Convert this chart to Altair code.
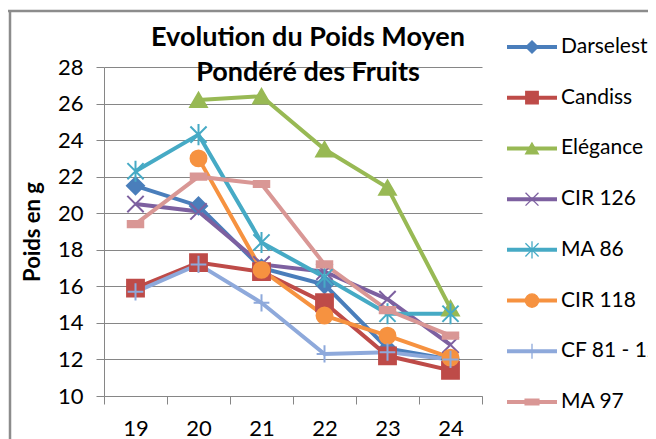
import altair as alt
import pandas as pd

FONT = "Lato"
GRAY = "#868686"

weeks = ["19", "20", "21", "22", "23", "24"]
series_names = ["Darselest", "Candiss", "Elégance", "CIR 126", "MA 86",
                "CIR 118", "CF 81 - 12", "MA 97"]
title_lines = ["Evolution du Poids Moyen", "Pondéré des Fruits"]

darselest = [21.5, 20.4, 17.0, 16.1, 12.6, 12.0]
candiss = [15.9, 17.3, 16.8, 15.1, 12.2, 11.4]
elegance = [None, 26.2, 26.4, 23.5, 21.4, 14.8]
cir126 = [20.5, 20.1, 17.2, 16.8, 15.3, 12.8]
ma86 = [22.3, 24.3, 18.4, 16.5, 14.5, 14.5]
cir118 = [None, 23.0, 16.9, 14.4, 13.3, 12.1]
cf81 = [15.7, 17.2, 15.1, 12.3, 12.4, 12.0]
ma97 = [19.4, 22.0, 21.6, 17.2, 14.7, 13.3]
values = [darselest, candiss, elegance, cir126, ma86, cir118, cf81, ma97]

colors = ["#4A7EBB", "#BE4B48", "#98B954", "#7D60A0", "#46AAC5",
          "#F69240", "#8EA9DB", "#D99795"]
shapes = ["diamond", "square", "triangle-up",
          "M-1,-1L1,1M-1,1L1,-1",
          "M-1,-1L1,1M-1,1L1,-1M0,-1.3L0,1.3",
          "circle",
          "M-1,0L1,0M0,-1.1L0,1.1",
          "M-1,-0.4L1,-0.4L1,0.4L-1,0.4Z"]
sizes = [290, 240, 320, 280, 300, 250, 250, 150]
leg_sizes = [150, 190, 200, 260, 260, 150, 220, 10]

rows = []
for name, vals in zip(series_names, values):
    for w, v in zip(weeks, vals):
        if v is not None:
            rows.append({"series": name, "week": w, "value": v})
df = pd.DataFrame(rows)
leg = pd.DataFrame({"series": series_names})
ttl = pd.DataFrame({"k": [0]})

color = alt.Color("series:N", scale=alt.Scale(domain=series_names, range=colors), legend=None)
stroke = alt.Stroke("series:N", scale=alt.Scale(domain=series_names, range=colors), legend=None)
shape = alt.Shape("series:N", scale=alt.Scale(domain=series_names, range=shapes), legend=None)

x = alt.X("week:O",
          scale=alt.Scale(type="band", domain=weeks, paddingInner=0, paddingOuter=0),
          axis=alt.Axis(title=None, tickBand="extent", labelAngle=0, labelFont=FONT,
                        labelFontSize=22, labelColor="#000", tickSize=8, tickColor=GRAY,
                        domainColor=GRAY, labelPadding=14, grid=False))
y = alt.Y("value:Q",
          scale=alt.Scale(domain=[10, 28], nice=False, zero=False),
          axis=alt.Axis(values=list(range(10, 29, 2)), title="Poids en g",
                        titleFont=FONT, titleFontSize=22, titleFontWeight="bold",
                        titleColor="#000", titlePadding=13,
                        labelFont=FONT, labelFontSize=22, labelColor="#000",
                        tickSize=8, tickColor=GRAY, domainColor=GRAY, labelPadding=13,
                        gridColor=GRAY, gridWidth=1))

base = alt.Chart(df)
lines = base.mark_line(strokeWidth=4).encode(x=x, y=y, color=color, detail="series:N")
points = base.mark_point(filled=True, opacity=1, strokeWidth=2).encode(
    x=x, y=y, color=color, stroke=stroke, shape=shape,
    size=alt.Size("series:O", sort=series_names,
                  scale=alt.Scale(domain=series_names, range=sizes), legend=None))
main = alt.layer(lines, points)

ly = alt.Y("series:N", scale=alt.Scale(type="point", domain=series_names,
                                       range=[-20, 335], padding=0), axis=None)
lb = alt.Chart(leg)
leg_rule = lb.mark_rule(strokeWidth=4).encode(
    x=alt.value(403), x2=alt.value(453), y=ly,
    color=alt.Color("series:N", scale=alt.Scale(domain=series_names, range=colors), legend=None))
leg_pts = lb.mark_point(filled=True, opacity=1, strokeWidth=1.3).encode(
    x=alt.value(428), y=ly,
    color=alt.Color("series:N", scale=alt.Scale(domain=series_names, range=colors), legend=None),
    stroke=alt.Stroke("series:N", scale=alt.Scale(domain=series_names, range=colors), legend=None),
    shape=alt.Shape("series:N", scale=alt.Scale(domain=series_names, range=shapes), legend=None),
    size=alt.Size("series:O", sort=series_names,
                  scale=alt.Scale(domain=series_names, range=leg_sizes), legend=None))
leg_txt = lb.mark_text(align="left", baseline="middle", font=FONT, fontSize=21,
                       color="#000").encode(x=alt.value(457), y=ly, text="series:N")

tb = alt.Chart(ttl)
title_txt = tb.mark_text(text=title_lines, align="center", baseline="alphabetic",
                         font=FONT, fontSize=27, fontWeight="bold", color="#000",
                         lineHeight=35).encode(x=alt.value(204), y=alt.value(-21))
border_top = tb.mark_rule(color="#8C8C8C", strokeWidth=2.5).encode(
    x=alt.value(-96), x2=alt.value(560), y=alt.value(-56))
border_left = tb.mark_rule(color="#8C8C8C", strokeWidth=2.5).encode(
    x=alt.value(-94), y=alt.value(-56), y2=alt.value(400))

legend = alt.layer(border_top, border_left, leg_rule, leg_pts, leg_txt, title_txt)

chart = alt.layer(main, legend).resolve_scale(
    y="independent", color="independent", shape="independent",
    stroke="independent", size="independent"
).properties(
    width=378, height=329,
    autosize=alt.AutoSizeParams(type="none"),
    padding={"left": 96, "top": 59, "right": 166, "bottom": 50},
).configure_view(stroke=None)

chart.save("out.html", embed_options={"renderer": "svg", "actions": False})
